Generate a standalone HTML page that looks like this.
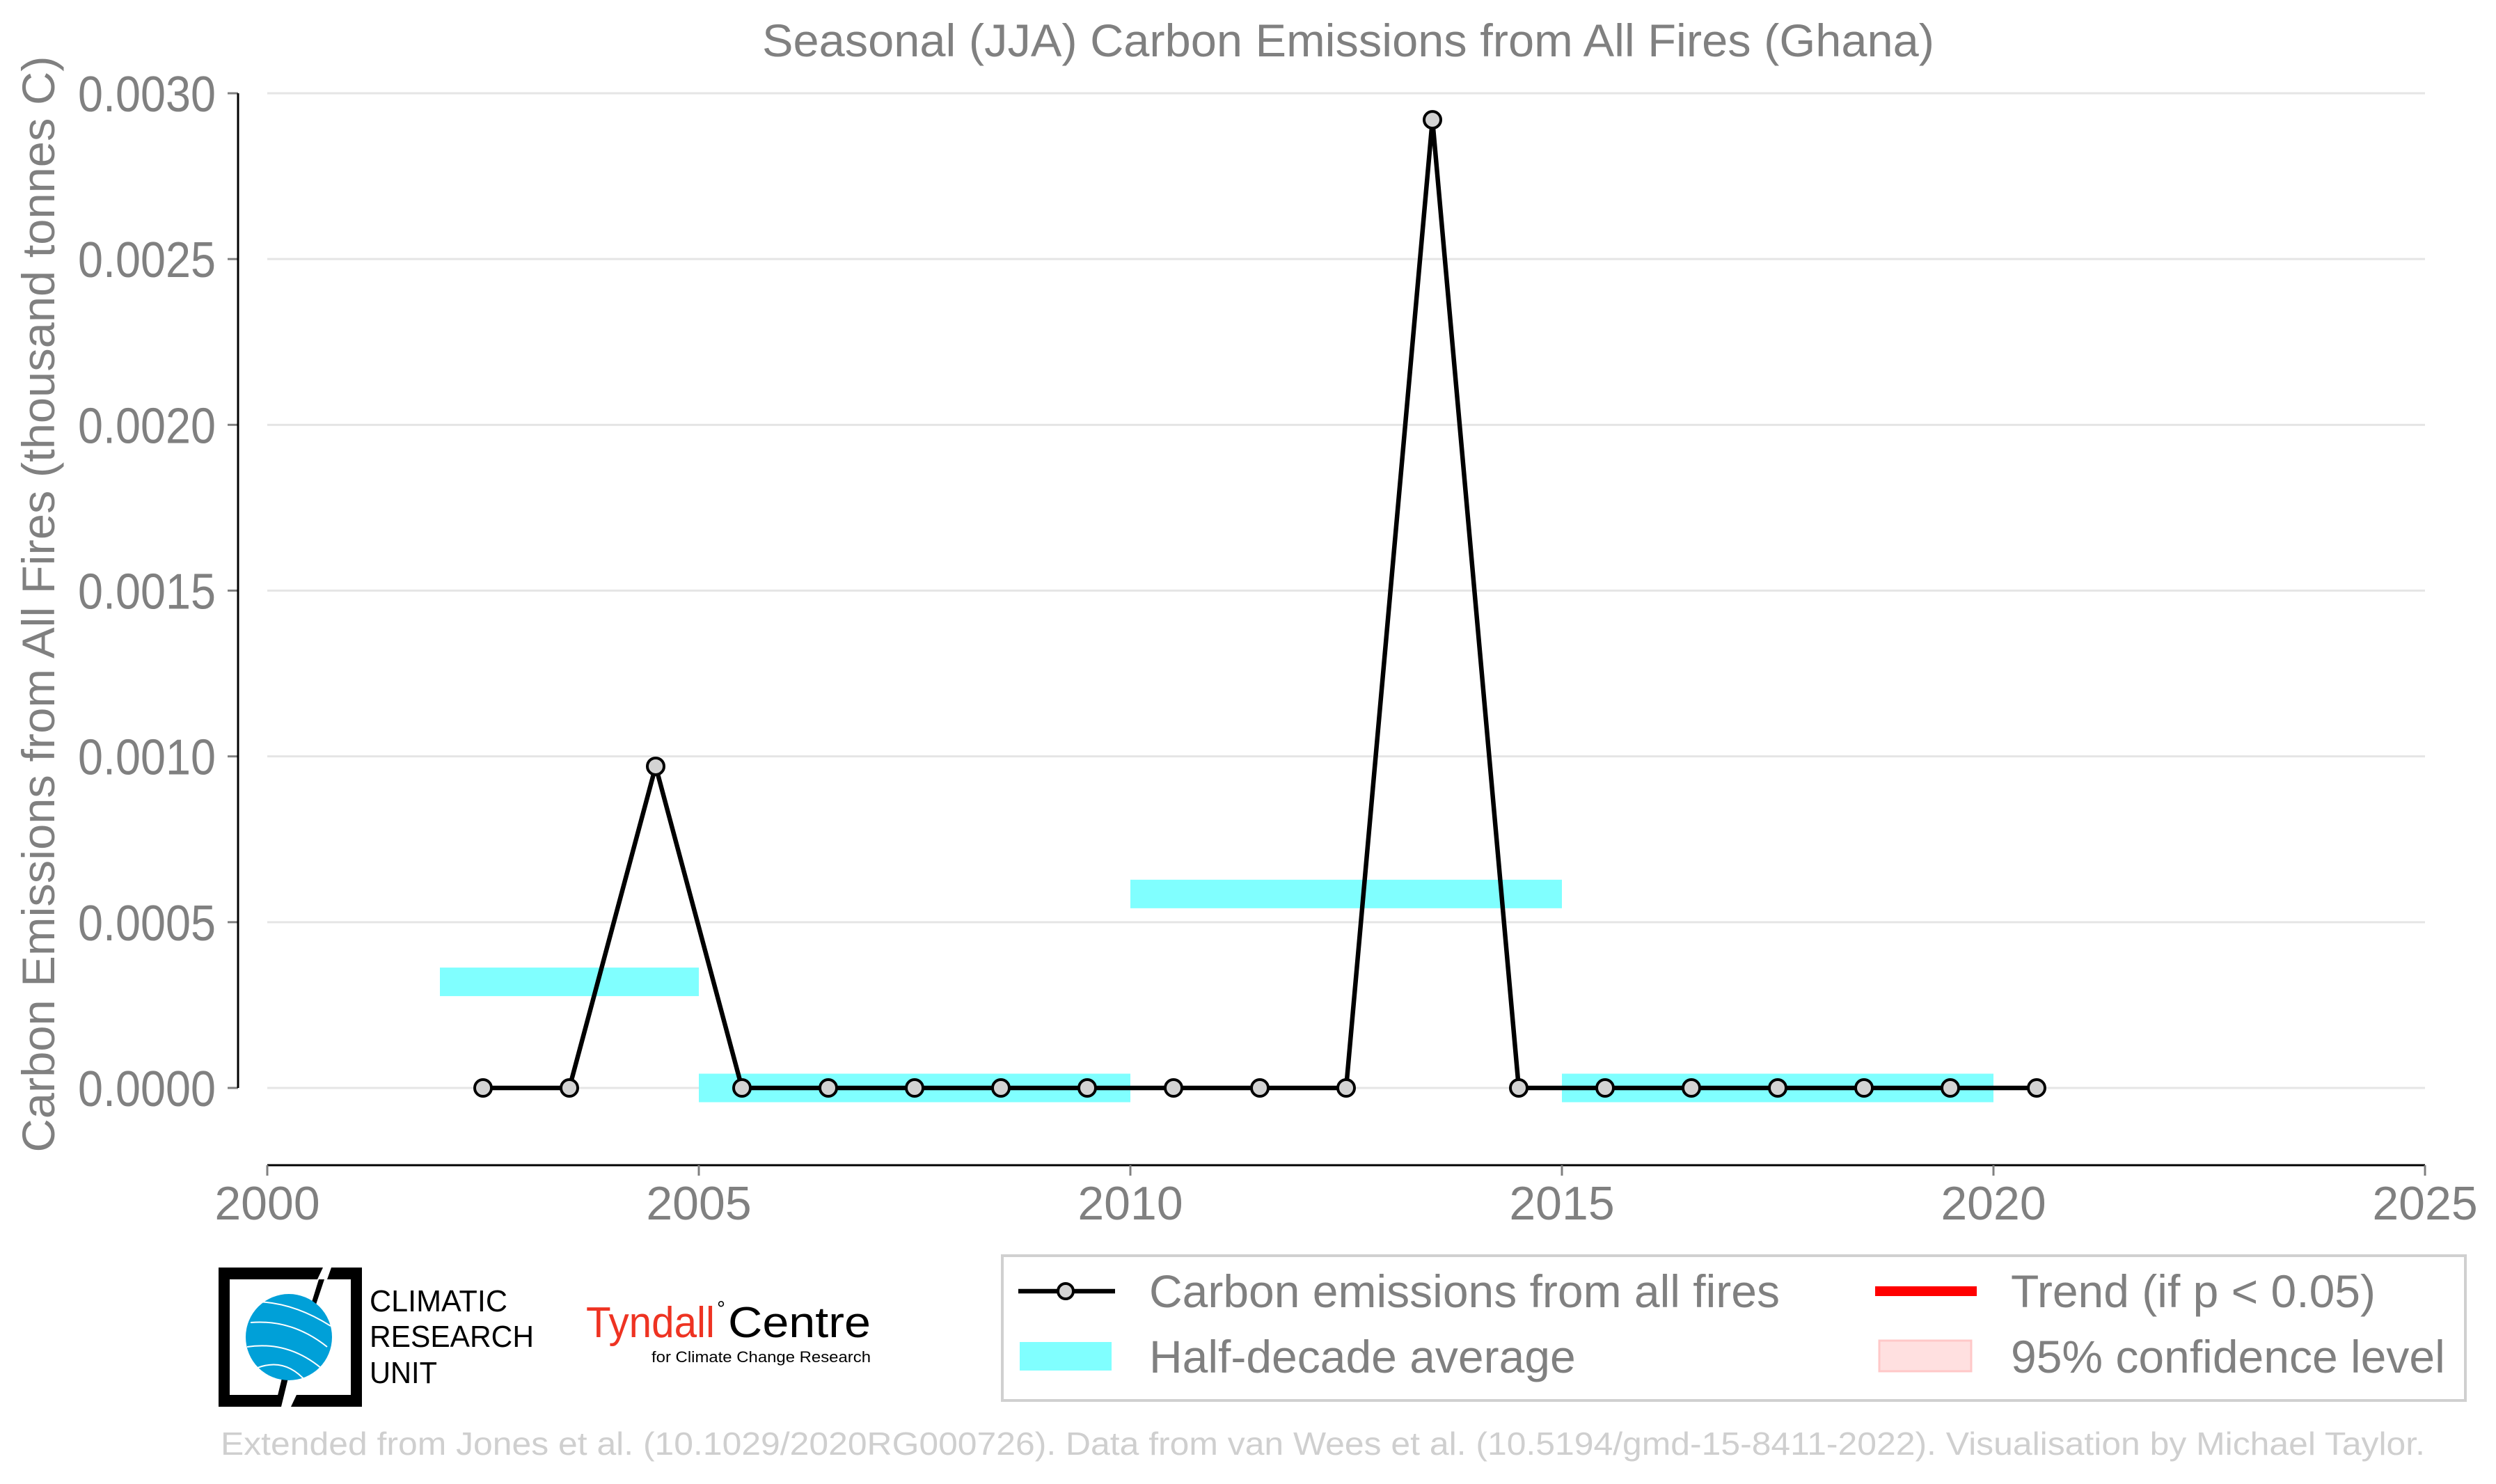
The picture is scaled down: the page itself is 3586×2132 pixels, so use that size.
<!DOCTYPE html>
<html><head><meta charset="utf-8"><style>
html,body{margin:0;padding:0;background:#fff;}
svg{display:block;font-family:"Liberation Sans",sans-serif;}
</style></head><body>
<svg id="chart" width="3586" height="2132" viewBox="0 0 3586 2132" xmlns="http://www.w3.org/2000/svg">
<text x="1937" y="81" font-size="66" fill="#808080" text-anchor="middle" textLength="1684" lengthAdjust="spacingAndGlyphs">Seasonal (JJA) Carbon Emissions from All Fires (Ghana)</text>
<text transform="translate(78,868) rotate(-90)" font-size="66" fill="#808080" text-anchor="middle" textLength="1575" lengthAdjust="spacingAndGlyphs">Carbon Emissions from All Fires (thousand tonnes C)</text>
<g id="grid"></g>
<g id="yaxis"></g>
<g id="xaxis"></g>
<g id="bars"></g>
<g id="series"></g>
<g>
<rect x="1440" y="1804" width="2102" height="208" fill="#fff" stroke="#d0d0d0" stroke-width="4"/>
<line x1="1463" y1="1855" x2="1602" y2="1855" stroke="#000" stroke-width="6.5"/>
<circle cx="1531" cy="1855" r="11" fill="#d3d3d3" stroke="#000" stroke-width="4"/>
<text x="1651" y="1878" font-size="66" fill="#808080">Carbon emissions from all fires</text>
<rect x="2694" y="1848" width="146" height="14" fill="red"/>
<text x="2889" y="1878" font-size="66" fill="#808080">Trend (if p &lt; 0.05)</text>
<rect x="1465" y="1928" width="132" height="41" fill="#80ffff"/>
<text x="1651" y="1972" font-size="66" fill="#808080">Half-decade average</text>
<rect x="2700" y="1926" width="132" height="44" fill="#ffe0e0" stroke="#ffc8c8" stroke-width="3"/>
<text x="2889" y="1972" font-size="66" fill="#808080">95% confidence level</text>
</g>
<g>
<path d="M314,1821 H464 L456,1838 H330 V2004 H408 L400,2021 H314 Z" fill="#000"/>
<path d="M476,1821 H520 V2021 H418 L426,2004 H504 V1838 H470 Z" fill="#000"/>
<path d="M458,1838 L445,1880 L452,1880 L466,1838Z M405,1980 L395,2021 L404,2021 L414,1980Z" fill="#000"/>
<ellipse cx="415" cy="1921" rx="62" ry="62" fill="#00a0d8"/>
<path d="M360,1900 Q420,1895 470,1935 M355,1935 Q420,1925 472,1975 M365,1870 Q420,1870 475,1905 M370,1965 Q410,1950 440,1985" stroke="#fff" stroke-width="2" fill="none"/>
<text x="531" y="1884" font-size="44" fill="#000" textLength="198" lengthAdjust="spacingAndGlyphs">CLIMATIC</text>
<text x="531" y="1935" font-size="44" fill="#000" textLength="236" lengthAdjust="spacingAndGlyphs">RESEARCH</text>
<text x="531" y="1987" font-size="44" fill="#000" textLength="97" lengthAdjust="spacingAndGlyphs">UNIT</text>
</g>
<g>
<text x="842" y="1921" font-size="62" fill="#ee3322" textLength="185" lengthAdjust="spacingAndGlyphs">Tyndall</text>
<text x="1030" y="1890" font-size="30" fill="#000">°</text>
<text x="1046" y="1921" font-size="62" fill="#000" textLength="205" lengthAdjust="spacingAndGlyphs">Centre</text>
<text x="936" y="1957" font-size="22" fill="#000" textLength="315" lengthAdjust="spacingAndGlyphs">for Climate Change Research</text>
</g>
<text x="317" y="2090" font-size="46" fill="#cfcfcf" textLength="3167" lengthAdjust="spacingAndGlyphs">Extended from Jones et al. (10.1029/2020RG000726). Data from van Wees et al. (10.5194/gmd-15-8411-2022). Visualisation by Michael Taylor.</text>
</svg>
<script>
const years = [2002.5,2003.5,2004.5,2005.5,2006.5,2007.5,2008.5,2009.5,2010.5,2011.5,2012.5,2013.5,2014.5,2015.5,2016.5,2017.5,2018.5,2019.5,2020.5];
const emissions = [0,0,0.00097,0,0,0,0,0,0,0,0,0.00292,0,0,0,0,0,0,0];
const halfStart = [2002,2005,2010,2015];
const halfEnd = [2005,2010,2015,2020];
const halfAvg = [0.00032,0,0.000585,0];
const yTicks = [0,0.0005,0.001,0.0015,0.002,0.0025,0.003];
const yTickLabels = ["0.0000","0.0005","0.0010","0.0015","0.0020","0.0025","0.0030"];
const xTicks = [2000,2005,2010,2015,2020,2025];

const NS = "http://www.w3.org/2000/svg";
function X(v){return 384 + (v-2000)*124;}
function Y(v){return 1563 - v/0.003*1429;}
function mk(tag, attrs, parent){const e=document.createElementNS(NS,tag);for(const k in attrs)e.setAttribute(k,attrs[k]);parent.appendChild(e);return e;}
const grid=document.getElementById('grid'), ya=document.getElementById('yaxis'), xa=document.getElementById('xaxis'), bars=document.getElementById('bars'), ser=document.getElementById('series');

yTicks.forEach((t,i)=>{
  const g=mk('line',{x1:384,x2:3484,y1:Y(t),y2:Y(t),stroke:'#e5e5e5','stroke-width':3},grid);
  
  
  const tk=mk('line',{x1:327,x2:342,y1:Y(t),y2:Y(t),stroke:'#808080','stroke-width':3},ya);
  
  
  const tx=mk('text',{x:310,y:Y(t)+26,'font-size':72,fill:'#808080','text-anchor':'end',textLength:198,lengthAdjust:'spacingAndGlyphs'},ya);
  tx.textContent=yTickLabels[i];
  
  
});
const ys=mk('line',{x1:342,x2:342,y1:Y(0.003),y2:Y(0),stroke:'#000','stroke-width':3},ya);


const xs=mk('line',{x1:X(2000),x2:X(2025),y1:1674,y2:1674,stroke:'#000','stroke-width':3},xa);


xTicks.forEach(t=>{
  const tk=mk('line',{x1:X(t),x2:X(t),y1:1674,y2:1689,stroke:'#808080','stroke-width':3},xa);
  
  
  const tx=mk('text',{x:X(t),y:1752,'font-size':68,fill:'#808080','text-anchor':'middle'},xa);
  tx.textContent=String(t);
  
  
});
halfAvg.forEach((v,i)=>{
  const r=mk('rect',{x:X(halfStart[i]),y:Y(v)-20.5,width:X(halfEnd[i])-X(halfStart[i]),height:41,fill:'#80ffff'},bars);
  
  
});
const pl=mk('polyline',{points:years.map((y,i)=>X(y)+','+Y(emissions[i])).join(' '),fill:'none',stroke:'#000','stroke-width':6.5,'stroke-linejoin':'miter'},ser);


years.forEach((y,i)=>{
  const c=mk('circle',{cx:X(y),cy:Y(emissions[i]),r:12,fill:'#d3d3d3',stroke:'#000','stroke-width':4},ser);
  
  
});
</script>
</body></html>
